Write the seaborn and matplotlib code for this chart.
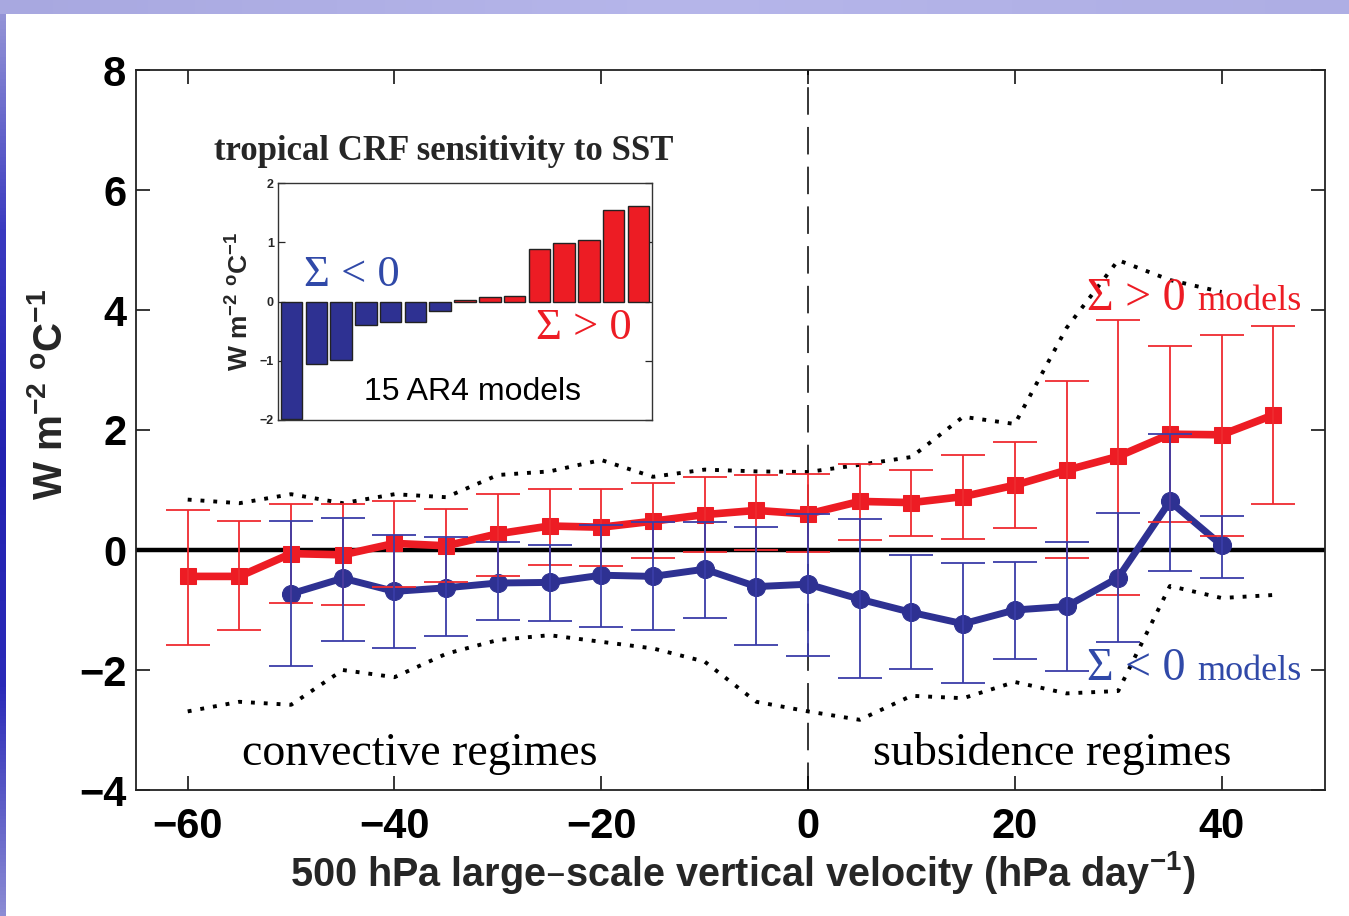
import numpy as np
import pandas as pd
import matplotlib
matplotlib.use("Agg")
import matplotlib.pyplot as plt
from matplotlib.colors import LinearSegmentedColormap
import seaborn as sns

# ---------------- data ----------------
omega_red = [-60, -55, -50, -45, -40, -35, -30, -25, -20, -15, -10, -5, 0,
             5, 10, 15, 20, 25, 30, 35, 40, 45]
red_mean = [-0.44, -0.44, -0.06, -0.08, 0.11, 0.07, 0.27, 0.40, 0.38, 0.48, 0.59,
            0.66, 0.60, 0.81, 0.79, 0.89, 1.08, 1.33, 1.56, 1.93, 1.92, 2.25]
red_upper = [0.67, 0.49, 0.77, 0.77, 0.82, 0.69, 0.94, 1.02, 1.02, 1.12, 1.22,
             1.25, 1.26, 1.44, 1.34, 1.58, 1.80, 2.82, 3.83, 3.40, 3.58, 3.73]
red_lower = [-1.58, -1.33, -0.88, -0.91, -0.61, -0.54, -0.43, -0.25, -0.27, -0.14, -0.04,
             0.00, -0.04, 0.16, 0.23, 0.19, 0.36, -0.14, -0.75, 0.46, 0.23, 0.77]

omega_blue = [-50, -45, -40, -35, -30, -25, -20, -15, -10, -5, 0,
              5, 10, 15, 20, 25, 30, 35, 40]
blue_mean = [-0.73, -0.47, -0.69, -0.63, -0.55, -0.54, -0.42, -0.44, -0.32, -0.61, -0.57,
             -0.82, -1.04, -1.23, -1.00, -0.94, -0.46, 0.81, 0.08]
blue_upper = [0.49, 0.54, 0.25, 0.21, 0.14, 0.08, 0.41, 0.47, 0.47, 0.39, 0.60,
              0.52, -0.09, -0.22, -0.20, 0.13, 0.61, 1.93, 0.56]
blue_lower = [-1.94, -1.52, -1.64, -1.43, -1.16, -1.18, -1.28, -1.34, -1.13, -1.58, -1.77,
              -2.14, -1.99, -2.22, -1.81, -2.02, -1.54, -0.35, -0.46]

omega_env_up = [-60, -55, -50, -45, -40, -35, -30, -25, -20, -15, -10, -5, 0,
                5, 10, 15, 20, 25, 30, 35, 40]
env_up = [0.84, 0.78, 0.93, 0.78, 0.93, 0.88, 1.25, 1.31, 1.50, 1.22, 1.34, 1.31, 1.30,
          1.42, 1.55, 2.22, 2.10, 3.70, 4.83, 4.50, 4.30]
omega_env_lo = [-60, -55, -50, -45, -40, -35, -30, -25, -20, -15, -10, -5, 0,
                5, 10, 15, 20, 25, 30, 35, 40, 45]
env_lo = [-2.69, -2.53, -2.58, -2.00, -2.12, -1.73, -1.50, -1.42, -1.53, -1.64, -1.86,
          -2.53, -2.69, -2.83, -2.43, -2.47, -2.20, -2.39, -2.35, -0.60, -0.80, -0.75]

inset_models = list(range(1, 16))
inset_vals = [-1.98, -1.05, -0.99, -0.39, -0.34, -0.34, -0.16, 0.02, 0.08, 0.10,
              0.89, 0.99, 1.04, 1.55, 1.62]

xticks = [-60, -40, -20, 0, 20, 40]
yticks = [-4, -2, 0, 2, 4, 6, 8]
inset_yticks = [-2, -1, 0, 1, 2]

RED = "#ED1C24"
RED_EB = "#EF2B30"
NAVY = "#2E3192"
NAVY_EB = "#3A3DA8"
TXT_BLUE = "#3049A8"

# ---------------- style ----------------
sns.set_theme(style="ticks")
plt.rcParams["font.family"] = ["Liberation Sans", "DejaVu Sans"]
plt.rcParams["mathtext.default"] = "regular"
plt.rcParams["axes.linewidth"] = 1.3
plt.rcParams["xtick.direction"] = "in"
plt.rcParams["ytick.direction"] = "in"

fig = plt.figure(figsize=(13.49, 9.16), dpi=100)
fig.patch.set_facecolor("white")

# slide background strips
grad = np.linspace(0, 1, 256).reshape(-1, 1)
cmap_left = LinearSegmentedColormap.from_list(
    "lft", ["#9a9ad8", "#3a3ac0", "#2222b0", "#2a2ab8", "#8c8cd4"])
axl = fig.add_axes([0, 0, 6 / 1349, 1])
axl.imshow(grad, aspect="auto", cmap=cmap_left)
axl.axis("off")
axt = fig.add_axes([0, 1 - 14 / 916, 1, 14 / 916])
axt.imshow(np.linspace(0, 1, 256).reshape(1, -1), aspect="auto",
           cmap=LinearSegmentedColormap.from_list("top", ["#a8a8e0", "#b6b6ea", "#aeaee4"]))
axt.axis("off")

# ---------------- main axes ----------------
ax = fig.add_axes([136 / 1349, 1 - 790 / 916, 1189 / 1349, 720 / 916])
ax.set_xlim(-65, 50)
ax.set_ylim(-4, 8)

df_red = pd.DataFrame({"omega": omega_red, "val": red_mean,
                       "lo": red_lower, "hi": red_upper})
df_blue = pd.DataFrame({"omega": omega_blue, "val": blue_mean,
                        "lo": blue_lower, "hi": blue_upper})

ax.axhline(0, color="black", lw=3.2, zorder=2)
ax.axvline(0, color="black", lw=1.1, linestyle=(0, (18, 8)), zorder=1)

sns.lineplot(x=omega_env_up, y=env_up, ax=ax, color="black", lw=2.8,
             linestyle=(0, (1, 2.3)), zorder=2)
sns.lineplot(x=omega_env_lo, y=env_lo, ax=ax, color="black", lw=2.8,
             linestyle=(0, (1, 2.3)), zorder=2)

sns.lineplot(data=df_red, x="omega", y="val", ax=ax, color=RED, lw=5.5,
             marker="s", markersize=12, markeredgecolor=RED, zorder=3)
sns.lineplot(data=df_blue, x="omega", y="val", ax=ax, color=NAVY, lw=5.0,
             marker="o", markersize=13, markeredgecolor=NAVY, zorder=4)

ax.errorbar(df_red["omega"], df_red["val"],
            yerr=[df_red["val"] - df_red["lo"], df_red["hi"] - df_red["val"]],
            fmt="none", ecolor=RED_EB, elinewidth=1.3, capsize=16, capthick=1.3, zorder=5)
ax.errorbar(df_blue["omega"], df_blue["val"],
            yerr=[df_blue["val"] - df_blue["lo"], df_blue["hi"] - df_blue["val"]],
            fmt="none", ecolor=NAVY_EB, elinewidth=1.3, capsize=16, capthick=1.3, zorder=5)

ax.set_xticks(xticks)
ax.set_yticks(yticks)
ax.tick_params(axis="both", which="both", direction="in", length=10, width=1.1,
               labelsize=30, top=True, right=True, colors="black")
ax.tick_params(axis="x", pad=12)
ax.tick_params(axis="y", pad=7)
for lab in ax.get_xticklabels() + ax.get_yticklabels():
    lab.set_fontweight("bold")
for sp in ax.spines.values():
    sp.set_visible(True)
    sp.set_color("#222222")

ax.set_xlabel("500 hPa large\u2013scale vertical velocity (hPa day$^{-1}$)",
              fontsize=28.5, fontweight="bold", va="center")
ax.xaxis.set_label_coords(0.51, -0.114)
ax.set_ylabel("W m$^{-2}$ $^{o}$C$^{-1}$", fontsize=29, fontweight="bold", va="center")
ax.yaxis.set_label_coords(-0.072, 0.55)

serif = ["Liberation Serif", "DejaVu Serif"]
ax.text(-54.7, -3.58, "convective regimes", family=serif, fontsize=33, ha="left",
        va="baseline", color="black")
ax.text(6.3, -3.58, "subsidence regimes", family=serif, fontsize=33, ha="left",
        va="baseline", color="black")
ax.text(27.0, 4.0, "\u03a3 > 0", family=serif, fontsize=33, color=RED, va="baseline")
ax.text(37.6, 4.0, "models", family=serif, fontsize=26, color=RED, va="baseline")
ax.text(27.0, -2.17, "\u03a3 < 0", family=serif, fontsize=33, color=TXT_BLUE, va="baseline")
ax.text(37.6, -2.17, "models", family=serif, fontsize=26, color=TXT_BLUE, va="baseline")

# ---------------- inset ----------------
axi = fig.add_axes([278 / 1349, 1 - 420 / 916, 374 / 1349, 237 / 916])
df_in = pd.DataFrame({"model": inset_models, "val": inset_vals})
df_in["sign"] = np.where(df_in["val"] < 0, "neg", "pos")
sns.barplot(data=df_in, x="model", y="val", hue="sign",
            palette={"neg": NAVY, "pos": RED}, dodge=False, width=0.87,
            edgecolor="#222222", linewidth=1.0, saturation=1.0, ax=axi, legend=False)
axi.set_xlim(-0.55, 14.55)
axi.set_ylim(-2, 2)
axi.set_xticks([])
axi.set_yticks(inset_yticks)
axi.tick_params(axis="y", direction="in", length=5, width=0.9, labelsize=9,
                right=True, pad=3)
for lab in axi.get_yticklabels():
    lab.set_fontweight("bold")
axi.set_xlabel("")
axi.set_ylabel("W m$^{-2}$ $^{o}$C$^{-1}$", fontsize=19, fontweight="bold", labelpad=4)
for sp in axi.spines.values():
    sp.set_visible(True)
    sp.set_color("#333333")
    sp.set_linewidth(1.0)
axi.text(2.43, 0.45, "\u03a3 < 0", family=serif, fontsize=32, color=TXT_BLUE,
         ha="center", va="center")
axi.text(11.8, -0.44, "\u03a3 > 0", family=serif, fontsize=32, color=RED,
         ha="center", va="center")
axi.text(7.3, -1.52, "15 AR4 models", fontsize=23, color="black",
         ha="center", va="center")
fig.text(444 / 1349, 1 - 152 / 916, "tropical CRF sensitivity to SST", family=serif,
         fontsize=25, fontweight="bold", ha="center", va="center")

fig.savefig("out.png", dpi=100, facecolor="white")
